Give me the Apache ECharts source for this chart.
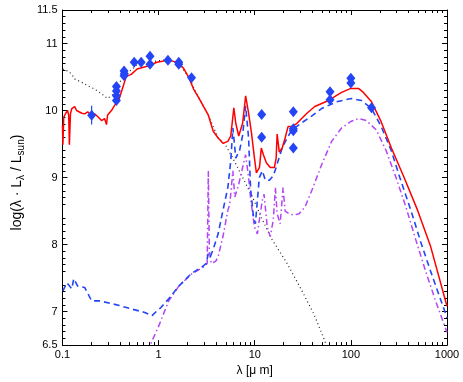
<!DOCTYPE html>
<html>
<head>
<meta charset="utf-8">
<script src="https://cdn.jsdelivr.net/npm/echarts@6/dist/echarts.min.js"></script>
<style>
html, body { margin: 0; padding: 0; background: #fff; }
#chart { width: 463px; height: 382px; }
</style>
</head>
<body>
<div id="chart"></div>
<script>
// wavelength [micron], log(lambda*L_lambda / L_sun)

// red solid: total model
var totalSed = [
	[0.100, 9.78], [0.101, 9.49], [0.103, 9.90], [0.108, 9.96], [0.113, 10.0], [0.116, 9.93],
	[0.118, 9.49], [0.121, 9.95], [0.125, 10.03], [0.134, 10.06], [0.140, 10.0], [0.145, 10.02],
	[0.159, 9.96], [0.170, 9.95], [0.183, 9.98], [0.201, 9.93], [0.216, 9.95], [0.232, 9.91],
	[0.255, 9.85], [0.274, 9.88], [0.287, 9.79], [0.294, 9.93], [0.323, 10.0], [0.346, 10.07],
	[0.390, 10.18], [0.419, 10.32], [0.461, 10.51], [0.519, 10.54], [0.598, 10.62], [0.757, 10.66],
	[0.960, 10.72], [1.13, 10.74], [1.25, 10.76], [1.45, 10.73], [1.62, 10.70], [1.82, 10.63],
	[2.05, 10.50], [2.31, 10.32], [2.59, 10.20], [2.91, 10.07], [3.29, 9.93], [3.70, 9.69],
	[4.16, 9.59], [4.67, 9.51], [5.25, 9.54], [5.63, 9.62], [6.06, 10.04], [6.35, 9.81],
	[6.81, 9.62], [7.48, 9.81], [8.04, 10.22], [8.63, 9.96], [9.26, 9.66], [9.93, 9.29],
	[10.4, 9.07], [11.2, 9.15], [11.7, 9.44], [12.3, 9.34], [13.2, 9.22], [14.5, 9.15],
	[16.0, 9.15], [16.7, 9.29], [17.1, 9.65], [18.0, 9.38], [19.3, 9.44], [20.7, 9.59],
	[22.2, 9.76], [24.4, 9.76], [27.5, 9.81], [34.9, 9.96], [42.1, 10.06], [58.6, 10.15],
	[80.0, 10.27], [100, 10.33], [120, 10.33], [135, 10.27], [164, 10.13], [207, 9.83],
	[264, 9.44], [358, 9.0], [495, 8.51], [676, 7.97], [1000, 7.08]
];

// blue dashed
var dustSed = [
	[0.101, 7.31], [0.111, 7.43], [0.125, 7.34], [0.131, 7.49], [0.144, 7.38], [0.170, 7.36],
	[0.201, 7.16], [0.243, 7.16], [0.323, 7.12], [0.390, 7.09], [0.519, 7.04], [0.706, 6.99],
	[0.853, 6.94], [0.960, 7.01], [1.056, 7.06], [1.274, 7.19], [1.62, 7.38], [2.20, 7.57],
	[2.91, 7.68], [3.13, 7.72], [3.29, 7.87], [3.45, 7.82], [3.70, 7.93], [4.16, 8.16],
	[4.67, 8.51], [5.25, 8.85], [5.63, 9.25], [5.92, 9.74], [6.35, 9.29], [6.97, 9.41],
	[7.48, 9.63], [8.04, 10.07], [8.63, 9.59], [9.04, 8.85], [9.70, 8.41], [10.16, 8.31],
	[10.65, 8.66], [11.16, 9.0], [12.0, 9.10], [12.9, 8.96], [14.2, 8.96], [15.6, 9.03],
	[16.7, 9.15], [17.5, 9.25], [19.3, 9.44], [21.7, 9.59], [24.4, 9.71], [31.0, 9.82],
	[39.3, 9.92], [49.6, 10.03], [71.1, 10.13], [101, 10.18], [129, 10.15], [164, 10.03],
	[207, 9.76], [262, 9.41], [323, 9.0], [421, 8.51], [533, 8.04], [676, 7.60], [1000, 6.91]
];

// purple dash-dot
var coolSed = [
	[0.76, 6.40], [1.006, 6.79], [1.274, 7.16], [1.62, 7.38], [2.20, 7.56], [3.06, 7.68],
	[3.20, 7.72], [3.29, 9.10], [3.37, 7.90], [3.53, 7.72], [3.92, 7.75], [4.16, 7.82],
	[4.67, 8.12], [5.25, 8.51], [5.50, 8.60], [5.92, 9.10], [6.20, 8.71], [6.81, 8.90],
	[7.48, 9.15], [8.04, 9.34], [8.63, 9.0], [9.04, 8.70], [9.93, 8.26], [10.65, 8.16],
	[11.4, 8.46], [12.0, 8.66], [12.5, 8.75], [13.5, 8.26], [14.5, 8.12], [15.6, 8.37],
	[16.4, 8.85], [17.1, 8.46], [18.4, 8.31], [19.7, 8.85], [20.7, 8.50], [22.7, 8.46],
	[25.6, 8.44], [28.9, 8.46], [33.3, 8.56], [39.3, 8.81], [49.6, 9.19], [63.1, 9.54],
	[80.0, 9.74], [101, 9.84], [120, 9.88], [145, 9.85], [184, 9.71], [233, 9.40],
	[295, 9.0], [374, 8.56], [474, 8.07], [600, 7.60], [760, 7.16], [1000, 6.69]
];

// black dotted: stars
var starSed = [
	[0.101, 10.62], [0.106, 10.60], [0.114, 10.59], [0.125, 10.54], [0.134, 10.47], [0.159, 10.42],
	[0.183, 10.37], [0.216, 10.32], [0.255, 10.25], [0.294, 10.18], [0.323, 10.22], [0.346, 10.26],
	[0.390, 10.40], [0.440, 10.57], [0.519, 10.60], [0.598, 10.69], [0.757, 10.71], [0.960, 10.74],
	[1.215, 10.76], [1.62, 10.70], [2.05, 10.50], [2.59, 10.20], [3.29, 9.93], [4.16, 9.59],
	[4.90, 9.50], [5.92, 9.29], [7.48, 9.0], [9.47, 8.71], [12.0, 8.37], [15.2, 8.07],
	[21.7, 7.72], [31.0, 7.31], [41.0, 6.97], [53.3, 6.57], [57.0, 6.45]
];

// blue diamonds
var photometry = [
	[0.201, 9.93],
	[0.364, 10.36], [0.364, 10.29], [0.364, 10.22], [0.364, 10.15],
	[0.437, 10.59], [0.440, 10.55], [0.437, 10.52],
	[0.557, 10.72], [0.658, 10.72], [0.814, 10.81], [0.814, 10.69],
	[1.25, 10.75], [1.62, 10.72], [1.62, 10.69], [2.20, 10.49],
	[11.8, 9.94], [11.8, 9.60],
	[25.2, 9.98], [25.2, 9.73], [25.2, 9.70], [25.2, 9.44],
	[60.7, 10.28], [60.7, 10.16],
	[100, 10.48], [100, 10.41],
	[164, 10.04]
];
// [lambda, low, high]
var photErrors = [[0.201, 9.79, 10.07]];

var xLabelValues = [0.1, 1, 10, 100, 1000];
var xMinorValues = [0.2, 0.3, 0.4, 0.5, 0.6, 0.7, 0.8, 0.9, 2, 3, 4, 5, 6, 7, 8, 9,
	20, 30, 40, 50, 60, 70, 80, 90, 200, 300, 400, 500, 600, 700, 800, 900];
var yLabelValues = [6.5, 7, 8, 9, 10, 11, 11.5];
var yMajorValues = [7, 8, 9, 10, 11];

var FONT = "'Liberation Sans', Arial, sans-serif";

function xAxisDef(pos, ticks, len, withLabels, withLine){
	return {
		type: 'log', logBase: 10, min: 0.1, max: 1000, position: pos,
		axisLine: { show: withLine, onZero: false, lineStyle: { color: '#000', width: 1 } },
		axisTick: { show: true, inside: true, length: len, customValues: ticks, lineStyle: { color: '#000' } },
		axisLabel: withLabels ? {
			customValues: xLabelValues, margin: 4, color: '#000', fontSize: 11, fontFamily: FONT,
			formatter: function(v){ return String(v); }
		} : { show: false },
		splitLine: { show: false },
		minorTick: { show: false }
	};
}

var myChart = echarts.init(document.getElementById('chart'));

var option = {
	animation: false,
	backgroundColor: '#fff',
	grid: { left: 57, right: 16, top: 10, bottom: 32, containLabel: false },
	xAxis: [
		Object.assign(xAxisDef('bottom', xLabelValues, 5, true, true), {
			name: 'λ [μ m]', nameLocation: 'middle', nameGap: 17,
			nameTextStyle: { color: '#000', fontSize: 12, fontFamily: FONT }
		}),
		xAxisDef('bottom', xMinorValues, 3, false, false),
		xAxisDef('top', xLabelValues, 5, false, true),
		xAxisDef('top', xMinorValues, 3, false, false)
	],
	yAxis: [
		{
			type: 'value', min: 6.5, max: 11.5, interval: 0.5, position: 'left',
			axisLine: { show: true, onZero: false, lineStyle: { color: '#000' } },
			axisTick: { show: true, inside: true, length: 5, customValues: yMajorValues, lineStyle: { color: '#000' } },
			minorTick: { show: true, splitNumber: 5, length: 3, lineStyle: { color: '#000' } },
			axisLabel: { customValues: yLabelValues, margin: 5, color: '#000', fontSize: 11, fontFamily: FONT },
			splitLine: { show: false },
			name: '{m|log(λ · L}{s|λ}{m| / L}{s|sun}{m|)}',
			nameLocation: 'middle', nameGap: 33, nameRotate: 90,
			nameTextStyle: {
				color: '#000', fontFamily: FONT, padding: [0, 10, 0, 0],
				rich: {
					m: { fontSize: 14, lineHeight: 16, verticalAlign: 'top', fontFamily: FONT, color: '#000' },
					s: { fontSize: 10, lineHeight: 10, verticalAlign: 'bottom', padding: [8, 0, 0, 0], fontFamily: FONT, color: '#000' }
				}
			}
		},
		{
			type: 'value', min: 6.5, max: 11.5, interval: 0.5, position: 'right',
			axisLine: { show: true, onZero: false, lineStyle: { color: '#000' } },
			axisTick: { show: true, inside: true, length: 5, customValues: yMajorValues, lineStyle: { color: '#000' } },
			minorTick: { show: true, splitNumber: 5, length: 3, lineStyle: { color: '#000' } },
			axisLabel: { show: false },
			splitLine: { show: false }
		}
	],
	series: [
		{
			name: 'stars', type: 'line', data: starSed, showSymbol: false, symbol: 'none',
			lineStyle: { color: '#222', width: 1.2, type: [1, 3] }, z: 2
		},
		{
			name: 'cool', type: 'line', data: coolSed, showSymbol: false, symbol: 'none',
			lineStyle: { color: '#b445f5', width: 1.5, type: [6, 3, 1.5, 3] }, z: 3
		},
		{
			name: 'dust', type: 'line', data: dustSed, showSymbol: false, symbol: 'none',
			lineStyle: { color: '#2445f5', width: 1.6, type: [6, 4] }, z: 4
		},
		{
			name: 'total', type: 'line', data: totalSed, showSymbol: false, symbol: 'none',
			lineStyle: { color: '#ff0000', width: 1.5 }, z: 5
		},
		{
			name: 'errors', type: 'custom', data: photErrors, z: 6,
			renderItem: function(params, api){
				var top = api.coord([api.value(0), api.value(2)]);
				var bot = api.coord([api.value(0), api.value(1)]);
				return {
					type: 'line',
					shape: { x1: top[0], y1: top[1], x2: bot[0], y2: bot[1] },
					style: { stroke: '#2445f5', lineWidth: 1.2 }
				};
			}
		},
		{
			name: 'photometry', type: 'scatter', data: photometry, symbol: 'diamond',
			symbolSize: [9, 11], itemStyle: { color: '#2445f5', opacity: 1 }, z: 7
		}
	]
};

myChart.setOption(option);
</script>
</body>
</html>
